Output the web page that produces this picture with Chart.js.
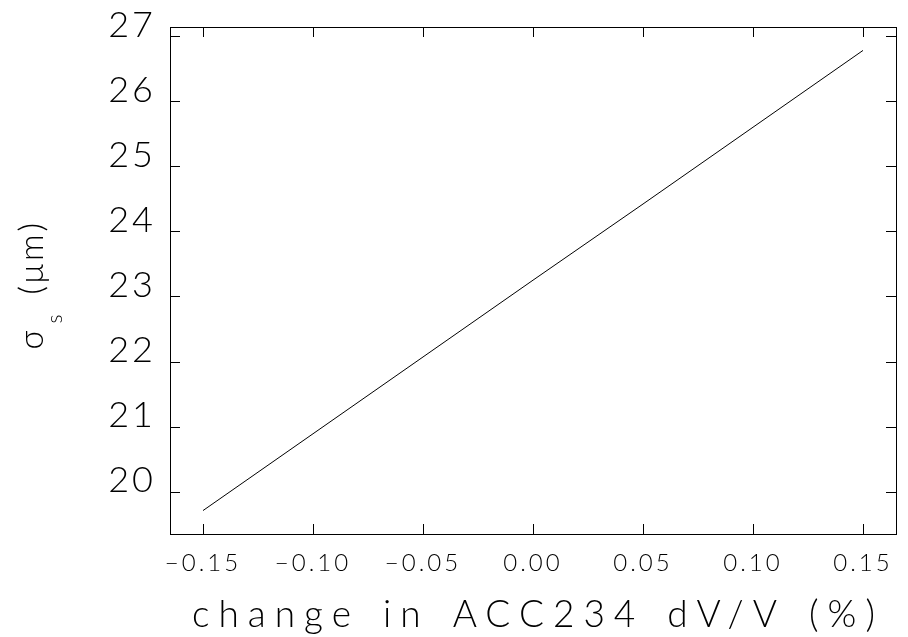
<!DOCTYPE html>
<html>
<head>
<meta charset="utf-8">
<script src="https://cdn.jsdelivr.net/npm/chart.js@4"></script>
<style>
  html, body { margin: 0; padding: 0; background: #fff; }
  #wrap { width: 908px; height: 637px; position: relative; }
</style>
</head>
<body>
<div id="wrap"><canvas id="sigmaChart"></canvas></div>
<script>
// dV/V change of ACC234 (%) and resulting sigma_s (um)
const dvPercent = [-0.15, -0.10, -0.05, 0.00, 0.05, 0.10, 0.15];
const sigmaS = [19.71, 20.89, 22.07, 23.25, 24.42, 25.60, 26.78];
const xTicks = [-0.15, -0.10, -0.05, 0.00, 0.05, 0.10, 0.15];
const yTicks = [20, 21, 22, 23, 24, 25, 26, 27];
const xTitle = 'change in ACC234 dV/V (%)';

const FONT = 'Lato, "DejaVu Sans", sans-serif';
const WEIGHT = 300;

// frame + inward ticks on all four sides
const framePlugin = {
    id: 'frame',
    afterDraw(chart) {
        const { ctx, chartArea: a, scales } = chart;
        ctx.save();
        ctx.strokeStyle = '#000';
        ctx.lineWidth = 1;
        ctx.strokeRect(a.left + 0.5, a.top + 0.5, a.right - a.left, a.bottom - a.top);
        ctx.beginPath();
        xTicks.forEach(v => {
            const px = Math.round(scales.x.getPixelForValue(v)) + 0.5;
            ctx.moveTo(px, a.bottom); ctx.lineTo(px, a.bottom - 10);
            ctx.moveTo(px, a.top); ctx.lineTo(px, a.top + 10);
        });
        yTicks.forEach(v => {
            const py = Math.round(scales.y.getPixelForValue(v)) + 0.5;
            ctx.moveTo(a.left, py); ctx.lineTo(a.left + 10, py);
            ctx.moveTo(a.right, py); ctx.lineTo(a.right - 10, py);
        });
        ctx.stroke();
        ctx.restore();
    }
};

// axis titles: wide-spaced x title, rotated y title with subscript
const titlePlugin = {
    id: 'titles',
    afterDraw(chart) {
        const { ctx, chartArea: a } = chart;
        const cx = (a.left + a.right) / 2;
        const cy = (a.top + a.bottom) / 2;

        ctx.save();
        ctx.fillStyle = '#000';
        ctx.textBaseline = 'alphabetic';
        ctx.font = `${WEIGHT} 37px ${FONT}`;
        ctx.letterSpacing = '9px';
        ctx.wordSpacing = '4px';
        ctx.textAlign = 'center';
        ctx.fillText(xTitle, cx + 5, 627);
        ctx.restore();

        ctx.save();
        ctx.translate(43, cy + 69);
        ctx.rotate(-Math.PI / 2);
        ctx.fillStyle = '#000';
        ctx.textAlign = 'left';
        ctx.textBaseline = 'alphabetic';
        ctx.font = `${WEIGHT} 33px ${FONT}`;
        ctx.fillText('σ', 0, 0);
        const w = ctx.measureText('σ').width;
        ctx.font = `${WEIGHT} 21px ${FONT}`;
        ctx.fillText('s', w + 4, 19);
        ctx.font = `${WEIGHT} 33px ${FONT}`;
        ctx.letterSpacing = '3px';
        ctx.fillText('(μm)', 55, 0);
        ctx.restore();
    }
};

const spacingPlugin = {
    id: 'spacing',
    beforeDraw(chart) { chart.ctx.letterSpacing = '3px'; }
};

new Chart(document.getElementById('sigmaChart'), {
    type: 'line',
    data: {
        datasets: [{
            data: dvPercent.map((x, i) => ({ x, y: sigmaS[i] })),
            borderColor: '#000',
            borderWidth: 1,
            pointRadius: 0,
            tension: 0,
            fill: false
        }]
    },
    options: {
        responsive: true,
        maintainAspectRatio: false,
        animation: false,
        layout: { padding: { top: 27, right: 12, left: 0, bottom: 0 } },
        plugins: { legend: { display: false }, tooltip: { enabled: false } },
        scales: {
            x: {
                type: 'linear',
                min: -0.165,
                max: 0.165,
                afterBuildTicks(scale) { scale.ticks = xTicks.map(v => ({ value: v })); },
                afterFit(scale) {
                    scale.height = 103;
                    scale.paddingLeft = 0;
                    scale.paddingRight = 0;
                },
                grid: { display: false, drawTicks: false },
                border: { display: false },
                ticks: {
                    color: '#000',
                    padding: 15,
                    maxRotation: 0,
                    font: { family: FONT, size: 24, weight: WEIGHT },
                    callback: v => v.toFixed(2).replace('-', '−')
                }
            },
            y: {
                type: 'linear',
                min: 19.35,
                max: 27.14,
                afterBuildTicks(scale) { scale.ticks = yTicks.map(v => ({ value: v })); },
                afterFit(scale) {
                    scale.width = 170;
                    scale.paddingTop = 0;
                    scale.paddingBottom = 0;
                },
                grid: { display: false, drawTicks: false },
                border: { display: false },
                ticks: {
                    color: '#000',
                    padding: 14,
                    labelOffset: -11,
                    font: { family: FONT, size: 36, weight: WEIGHT },
                    callback: v => String(v)
                }
            }
        }
    },
    plugins: [spacingPlugin, framePlugin, titlePlugin]
});
</script>
</body>
</html>
